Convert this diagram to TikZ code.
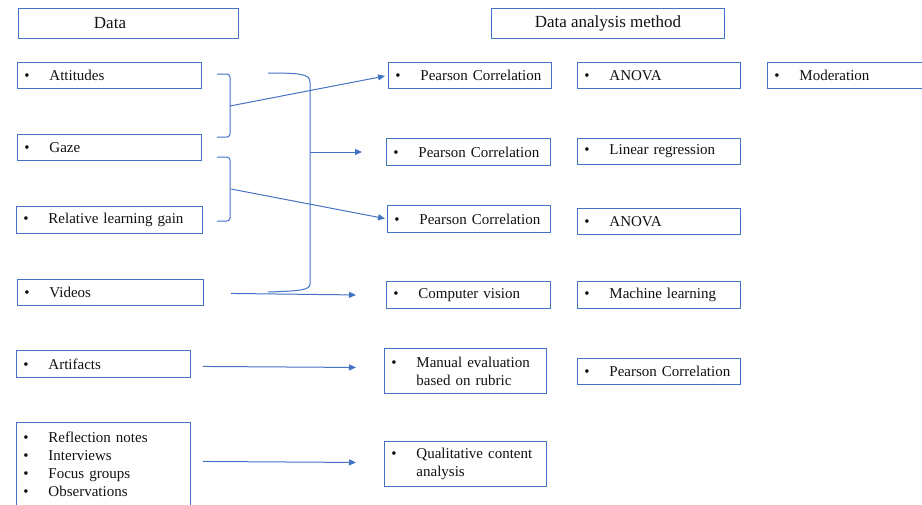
\documentclass[tikz,border=0pt]{standalone}
\usepackage{fontspec}
\setmainfont{Liberation Serif}
\usetikzlibrary{arrows.meta,positioning,calc}
\definecolor{lineblue}{HTML}{4472C4}
\definecolor{txt}{HTML}{111111}
\newcommand{\itm}{\makebox[32pt][l]{\hspace{7pt}\textbullet}}

\begin{document}
\begin{tikzpicture}[
  x=1pt, y=-1pt,
  >={Triangle[length=7pt,width=6pt]},
  itembox/.style={draw=lineblue, line width=0.9pt, anchor=north west,
    inner xsep=0pt, inner ysep=0pt, minimum height=26pt, text width=#1,
    align=left, text=txt, font=\fontsize{15}{18}\selectfont},
  headbox/.style={draw=lineblue, line width=0.9pt, anchor=north west,
    minimum height=30pt, text=txt, font=\fontsize{17}{20}\selectfont},
  link/.style={draw=lineblue, line width=1pt},
]
\useasboundingbox (0,0) rectangle (922,504);
\clip (0,0) rectangle (922,504);

% headers
\node[headbox, minimum width=220pt] (hdata) at (18,8) {};
\node[text=txt, font=\fontsize{17}{20}\selectfont] (tdata) at (110,23) {Data};
\node[headbox, minimum width=233pt] (hmethod) at (491,8) {Data analysis method};

% data column
\node[itembox=184pt] (att) at (17,62) {\itm Attitudes};
\node[itembox=184pt] (gaze) at (17,134) {\itm Gaze};
\node[itembox=186pt, minimum height=27pt] (rlg) at (16,206) {\itm Relative learning gain};
\node[itembox=186pt] (vid) at (17,279) {\itm Videos};
\node[itembox=174pt, minimum height=27pt] (art) at (16,350) {\itm Artifacts};
\node[itembox=174pt, minimum height=84pt] (refl) at (16,422)
  {\itm Reflection notes\\\itm Interviews\\\itm Focus groups\\\itm Observations};

% first method column
\node[itembox=163pt] (pc1) at (388,62) {\itm Pearson Correlation};
\node[itembox=164pt, minimum height=27pt] (pc2) at (386,138) {\itm Pearson Correlation};
\node[itembox=163pt, minimum height=27pt] (pc3) at (387,205) {\itm Pearson Correlation};
\node[itembox=164pt, minimum height=27pt] (cv) at (386,281) {\itm Computer vision};
\node[itembox=162pt, minimum height=45pt] (man) at (384,348)
  {\itm Manual evaluation\\\hspace*{32pt}based on rubric};
\node[itembox=162pt, minimum height=45pt] (qual) at (384,441)
  {\itm Qualitative content\\\hspace*{32pt}analysis};

% second method column
\node[itembox=163pt] (anova1) at (577,62) {\itm ANOVA};
\node[itembox=163pt] (linreg) at (577,138) {\itm Linear regression};
\node[itembox=163pt] (anova2) at (577,208) {\itm ANOVA};
\node[itembox=163pt, minimum height=27pt] (ml) at (577,281) {\itm Machine learning};
\node[itembox=163pt] (pc4) at (577,358) {\itm Pearson Correlation};

% third method column
\node[itembox=170pt] (mod) at (767,62) {\itm Moderation};

% brackets
\draw[link, rounded corners=3pt] (217,74) -- (230,74) -- (230,137) -- (217,137);
\draw[link, rounded corners=3pt] (217,157) -- (230,157) -- (230,221) -- (217,221);
\draw[link] (268,73) .. controls (300,73) and (310,74) .. (310,82)
  -- (310,284) .. controls (310,290) and (300,291) .. (268,292);
\coordinate (b1) at (230,106);
\coordinate (b2) at (231,189);
\coordinate (b3) at (310,152);
\coordinate (b3end) at (362,152);

% connectors
\draw[link, ->, shorten >=3pt] (b1) -- (pc1.west);
\draw[link, ->, shorten >=2pt] (b2) -- (pc3.west);
\draw[link, ->] (b3) -- (b3end);
\draw[link, ->] ($(vid.east)+(27,1)$) -- ($(cv.west)+(-30,0)$);
\draw[link, ->] ($(art.east)+(12,2.5)$) -- ($(man.west)+(-28,-3.5)$);
\draw[link, ->] ($(refl.east)+(12,-3)$) -- ($(qual.west)+(-28,-1.5)$);

\end{tikzpicture}
\end{document}
